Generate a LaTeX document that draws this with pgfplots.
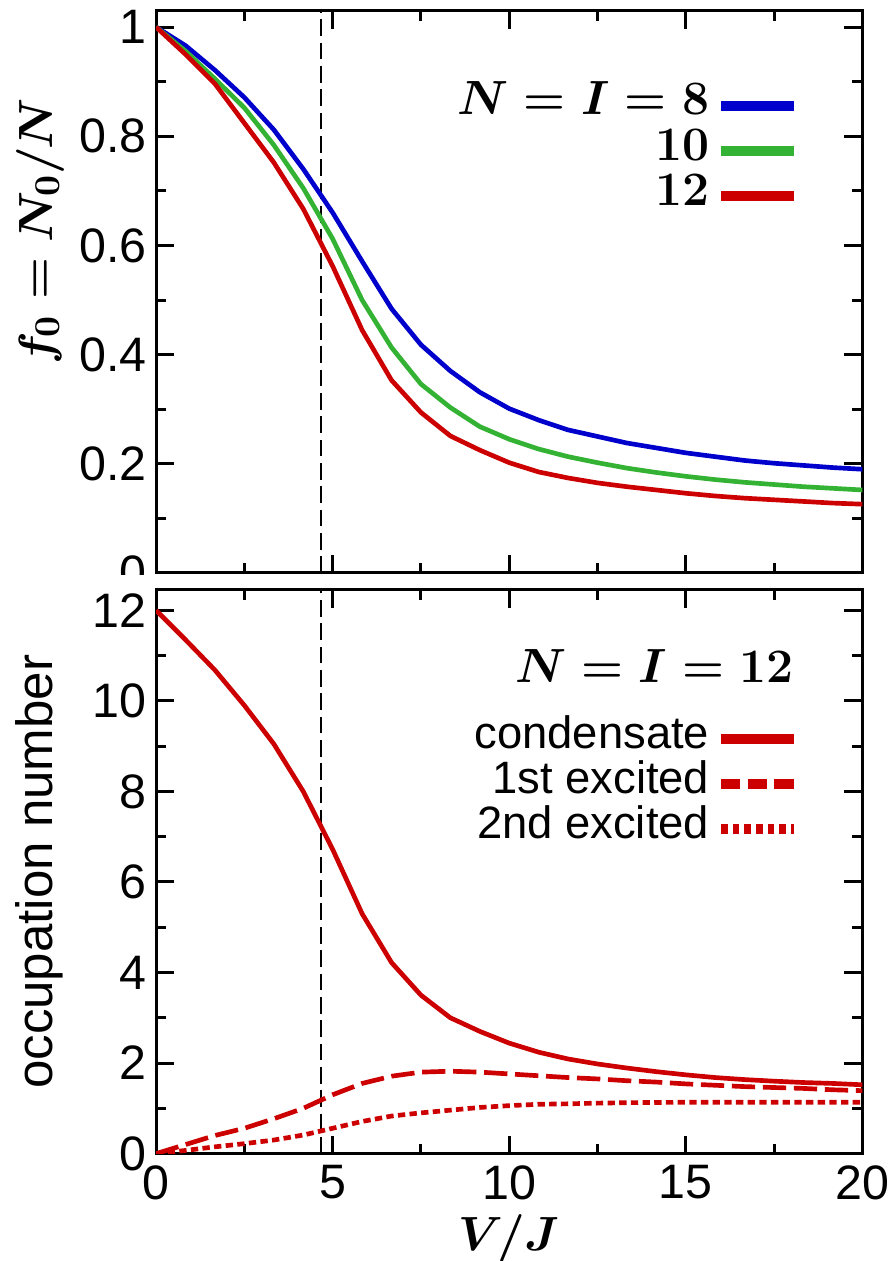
\documentclass[border=0pt]{standalone}
\usepackage[no-math]{fontspec}
\setmainfont{Liberation Sans}
\usepackage{pgfplots}
\pgfplotsset{compat=1.18}
\definecolor{cblue}{RGB}{0,0,204}
\definecolor{cgreen}{RGB}{51,178,51}
\definecolor{cred}{RGB}{204,0,0}

% f0 = N0/N for N = I = 8, 10, 12
\pgfplotstableread{
x      n8     n10    n12
0      1.000  1.000  1.000
0.833  0.966  0.956  0.950
1.667  0.921  0.905  0.896
2.5    0.871  0.852  0.824
3.333  0.812  0.784  0.752
4.167  0.740  0.705  0.667
5      0.660  0.612  0.562
5.833  0.571  0.500  0.445
6.667  0.484  0.413  0.353
7.5    0.418  0.346  0.294
8.333  0.370  0.303  0.251
9.167  0.331  0.268  0.225
10     0.301  0.245  0.202
10.833 0.280  0.227  0.185
11.667 0.262  0.213  0.174
12.5   0.250  0.202  0.165
13.333 0.238  0.192  0.158
14.167 0.229  0.184  0.152
15     0.220  0.177  0.146
15.833 0.213  0.171  0.141
16.667 0.206  0.166  0.137
17.5   0.201  0.162  0.134
18.333 0.197  0.158  0.131
19.167 0.193  0.155  0.128
20     0.190  0.152  0.126
}\fzero

% occupation numbers, N = I = 12
\pgfplotstableread{
x      cond   ex1    ex2
0      12.00  0.00   0.00
0.833  11.35  0.20   0.07
1.667  10.68  0.40   0.15
2.5    9.90   0.56   0.22
3.333  9.05   0.77   0.30
4.167  8.00   1.00   0.41
5      6.72   1.30   0.56
5.833  5.30   1.55   0.71
6.667  4.22   1.71   0.83
7.5    3.50   1.80   0.90
8.333  3.00   1.82   0.96
9.167  2.70   1.80   1.02
10     2.44   1.76   1.06
10.833 2.24   1.72   1.09
11.667 2.09   1.68   1.10
12.5   1.98   1.65   1.115
13.333 1.89   1.61   1.125
14.167 1.81   1.58   1.13
15     1.74   1.54   1.135
15.833 1.68   1.51   1.135
16.667 1.635  1.48   1.135
17.5   1.60   1.46   1.135
18.333 1.57   1.44   1.135
19.167 1.55   1.41   1.135
20     1.52   1.39   1.135
}\occ

\begin{document}
\begin{tikzpicture}
\pgfplotsset{
  every axis/.append style={
    scale only axis, width=211.8pt,
    xmin=0, xmax=20, xtick={0,5,10,15,20}, minor x tick num=1,
    tick align=inside, xtick pos=both, ytick pos=both,
    major tick length=5.4pt, minor tick length=3pt,
    axis line style={line width=0.9pt},
    tick style={black, line width=0.9pt},
    tick label style={font=\fontsize{14.5}{15}\selectfont},
    /pgf/number format/assume math mode=true,
    yticklabel style={inner sep=0pt, xshift=-2.7pt},
    legend cell align=right, legend plot pos=right,
    legend image code/.code={\draw[#1] (0pt,0pt) -- (21.9pt,0pt);},
  },
}
\begin{axis}[name=top, height=168.6pt,
  ymin=0, ymax=1.03, ytick={0,0.2,0.4,0.6,0.8,1}, minor y tick num=1,
  xticklabels={},
  ylabel={$f_0 = N_0/N$},
  ylabel style={at={(axis description cs:-0.1473,0.607)}, anchor=base, inner sep=0pt,
    font=\boldmath\fontsize{15}{16}\selectfont},
  legend style={draw=none, fill=none, at={(rel axis cs:0.911,0.872)}, anchor=north east,
    inner sep=0pt, font=\boldmath\fontsize{13.4}{14}\selectfont,
    nodes={inner sep=0pt, text height=9.5pt, text depth=4pt},
    /tikz/column sep=2pt},
]
\addlegendimage{cblue, line width=3pt}
\addlegendentry{$N = I = 8$}
\addlegendimage{cgreen, line width=3pt}
\addlegendentry{$10$}
\addlegendimage{cred, line width=3pt}
\addlegendentry{$12$}
\addplot[black, line width=0.5pt, dash pattern=on 5pt off 2pt, forget plot] coordinates {(4.67,0) (4.67,1.03)};
\addplot[cblue, line width=1.4pt, forget plot] table[x=x, y=n8] {\fzero};
\addplot[cgreen, line width=1.4pt, forget plot] table[x=x, y=n10] {\fzero};
\addplot[cred, line width=1.4pt, forget plot] table[x=x, y=n12] {\fzero};
\end{axis}
\fill[white] ([xshift=-45pt, yshift=-0.5pt]top.south west) rectangle ([xshift=-0.5pt, yshift=-5.1pt]top.south west);
\begin{axis}[name=bot, at={(top.south west)}, anchor=north west, yshift=-5.1pt,
  height=169pt,
  ymin=0, ymax=12.45, ytick={0,2,4,6,8,10,12}, minor y tick num=1,
  ylabel={occupation number},
  ylabel style={at={(axis description cs:-0.1473,0.5)}, anchor=base, inner sep=0pt,
    font=\fontsize{15.3}{16}\selectfont},
  xlabel={$V/J$},
  xlabel style={at={(axis description cs:0.5,0)}, anchor=base, yshift=-28.9pt, inner sep=0pt,
    font=\boldmath\fontsize{14.4}{15}\selectfont},
  legend style={draw=none, fill=none, at={(rel axis cs:0.911,0.776)}, anchor=north east,
    inner sep=0pt, font=\fontsize{13.6}{14}\selectfont,
    nodes={inner sep=0pt, text height=9.5pt, text depth=4pt},
    /tikz/column sep=2pt},
]
\addlegendimage{cred, line width=3pt}
\addlegendentry{condensate}
\addlegendimage{cred, line width=3pt, dash pattern=on 5.8pt off 2.2pt}
\addlegendentry{1st excited}
\addlegendimage{cred, line width=3pt, dash pattern=on 2pt off 1.5pt}
\addlegendentry{2nd excited}
\addplot[black, line width=0.5pt, dash pattern=on 5pt off 2pt, forget plot] coordinates {(4.67,0) (4.67,12.45)};
\addplot[cred, line width=1.4pt, forget plot] table[x=x, y=cond] {\occ};
\addplot[cred, line width=1.4pt, dash pattern=on 7pt off 2.3pt, forget plot] table[x=x, y=ex1] {\occ};
\addplot[cred, line width=1.4pt, dash pattern=on 2.2pt off 1.3pt, forget plot] table[x=x, y=ex2] {\occ};
\node[anchor=base east, inner sep=0pt, font=\boldmath\fontsize{13.8}{15}\selectfont]
  at (rel axis cs:0.904,0.8356) {$N = I = 12$};
\end{axis}
\pgfresetboundingbox
\path ([xshift=-46.8pt, yshift=3.2pt]top.north west) rectangle ([xshift=9pt, yshift=-32.2pt]bot.south east);
\end{tikzpicture}
\end{document}
